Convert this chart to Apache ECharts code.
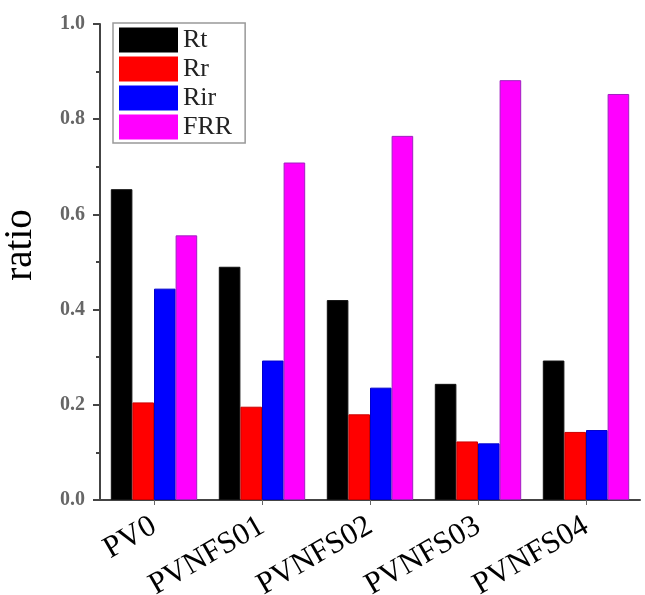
<!DOCTYPE html>
<html>
<head>
<meta charset="utf-8">
<script src="https://cdn.jsdelivr.net/npm/echarts@6/dist/echarts.min.js"></script>
<style>html,body{margin:0;padding:0;background:#fff;}#c{width:645px;height:595px;}</style>
</head>
<body>
<div id="c"></div>
<script>
const categories = ['PV0', 'PVNFS01', 'PVNFS02', 'PVNFS03', 'PVNFS04'];
const seriesNames = ['Rt', 'Rr', 'Rir', 'FRR'];
const Rt  = [0.653, 0.490, 0.420, 0.244, 0.293];
const Rr  = [0.205, 0.196, 0.180, 0.123, 0.143];
const Rir = [0.444, 0.293, 0.236, 0.119, 0.147];
const FRR = [0.556, 0.709, 0.765, 0.882, 0.853];
const yTicks = [0, 0.2, 0.4, 0.6, 0.8, 1.0];

const colors = ['#000000', '#ff0000', '#0000ff', '#ff00ff'];
const borders = ['#111111', '#cc0000', '#0000cc', '#a020c0'];
const values = [Rt, Rr, Rir, FRR];

const chart = echarts.init(document.getElementById('c'));
chart.setOption({
  animation: false,
  backgroundColor: '#fff',
  grid: { left: 100, right: 5, top: 24, bottom: 95, containLabel: false, outerBoundsMode: 'none' },
  legend: {
    orient: 'vertical',
    left: 113, top: 23,
    padding: [4, 13, 3, 6],
    itemWidth: 59, itemHeight: 25, itemGap: 3,
    icon: 'rect',
    borderColor: '#999', borderWidth: 1.5,
    textStyle: { fontFamily: 'Liberation Serif', fontSize: 26, lineHeight: 25, color: '#222' },
    data: seriesNames,
    itemStyle: { borderWidth: 0 }
  },
  xAxis: {
    type: 'category',
    data: categories,
    axisLine: { lineStyle: { color: '#444', width: 2 } },
    axisTick: { show: true, alignWithLabel: true, length: 5, lineStyle: { color: '#666' } },
    axisLabel: { rotate: 30, margin: 24, fontFamily: 'Liberation Serif', fontSize: 31, color: '#000' }
  },
  yAxis: {
    type: 'value',
    min: 0, max: 1, interval: 0.2,
    name: 'ratio',
    nameLocation: 'middle',
    nameGap: 60,
    nameTextStyle: { fontFamily: 'Liberation Serif', fontSize: 39, color: '#000', padding: [0, 0, 0, 34] },
    axisLine: { show: true, lineStyle: { color: '#444', width: 2 } },
    axisTick: { show: true, length: 7, lineStyle: { color: '#444', width: 2 } },
    minorTick: { show: true, splitNumber: 2, length: 4, lineStyle: { color: '#444', width: 2 } },
    splitLine: { show: false },
    axisLabel: {
      margin: 15,
      fontFamily: 'Liberation Serif', fontSize: 20, fontWeight: 'bold', color: '#666',
      formatter: v => yTicks.some(t => Math.abs(t - v) < 1e-9) ? v.toFixed(1) : ''
    }
  },
  series: seriesNames.map((n, i) => ({
    name: n,
    type: 'bar',
    data: values[i],
    barGap: '0%',
    barCategoryGap: '20%',
    itemStyle: { color: colors[i], borderColor: borders[i], borderWidth: 1 }
  }))
});
</script>
</body>
</html>
